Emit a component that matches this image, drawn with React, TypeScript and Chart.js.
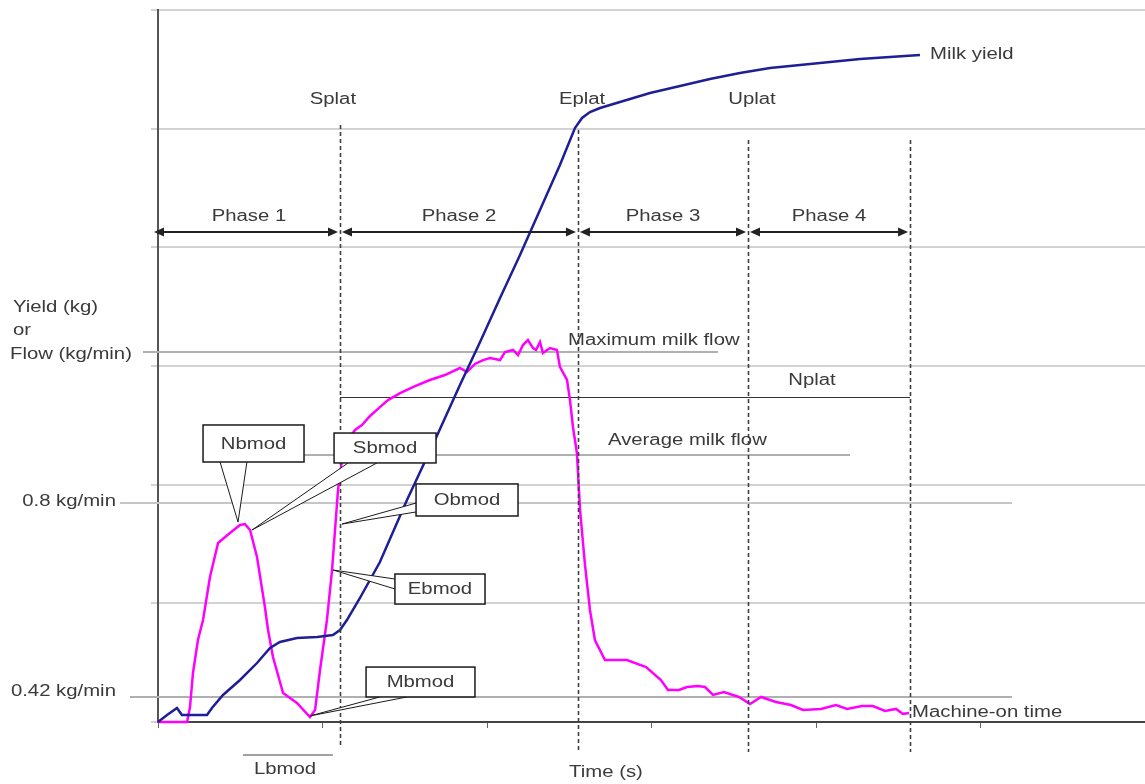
import { useEffect, useRef } from "react";
import { Chart, registerables } from "chart.js";

Chart.register(...registerables);

// ---- Data (time in s, yield in kg / flow in kg/min on a shared unit axis) ----
const yieldTime = [0, 5.5, 11.5, 14.5, 29.7, 32.7, 39.4, 49.7, 60, 67.9, 73.9, 84.2, 96.4, 106, 110.3, 114.5, 122.4, 134.5, 150.9, 167.9, 183, 195.2, 207.3, 219.4, 231.5, 243.6, 252.7, 257, 261.8, 267.9, 280, 298.2, 316.4, 334.5, 352.7, 370.9, 389.1, 407.3, 425.5, 443.6, 461.8];
const yieldValues = [0, 0.059, 0.118, 0.059, 0.059, 0.118, 0.228, 0.354, 0.497, 0.624, 0.674, 0.708, 0.716, 0.733, 0.775, 0.859, 1.045, 1.348, 1.871, 2.376, 2.84, 3.202, 3.573, 3.935, 4.314, 4.694, 5.005, 5.09, 5.14, 5.174, 5.225, 5.3, 5.359, 5.418, 5.469, 5.511, 5.536, 5.562, 5.587, 5.604, 5.621];

const flowTime = [0, 17.6, 19.4, 21.2, 24.2, 27.3, 31.5, 36.4, 43.6, 49.7, 52.7, 55.8, 60, 64.8, 66.7, 69.7, 75.8, 84.2, 92.1, 95.2, 98.2, 102.4, 105.5, 109.1, 111.5, 115.2, 119.4, 123.6, 128.5, 134.5, 139.4, 146.7, 155.8, 164.8, 173.9, 183, 187.3, 192.1, 197, 201.2, 207.3, 210.3, 215.2, 218.2, 221.2, 224.2, 227.3, 229.1, 231.5, 233.3, 237.6, 241.8, 243.6, 247.9, 249.7, 251.5, 253.9, 255.8, 258.8, 261.8, 264.8, 270.9, 284.2, 295.8, 304.8, 309.1, 315.8, 320.6, 327.3, 331.5, 336.4, 343, 352.1, 358.8, 365.5, 374.5, 383.6, 390.9, 401.8, 410.9, 417.6, 426.7, 433.3, 440.6, 447.3, 451.5, 455.2];
const flowValues = [0, 0, 0.126, 0.413, 0.691, 0.86, 1.222, 1.508, 1.593, 1.66, 1.668, 1.618, 1.39, 0.969, 0.775, 0.548, 0.244, 0.16, 0.042, 0.101, 0.438, 0.86, 1.281, 1.955, 2.208, 2.376, 2.461, 2.503, 2.579, 2.654, 2.713, 2.772, 2.831, 2.882, 2.924, 2.983, 2.949, 3.017, 3.05, 3.067, 3.05, 3.118, 3.135, 3.092, 3.177, 3.219, 3.151, 3.135, 3.202, 3.11, 3.151, 3.135, 2.992, 2.882, 2.713, 2.486, 2.267, 1.786, 1.323, 0.944, 0.691, 0.522, 0.522, 0.463, 0.354, 0.27, 0.27, 0.295, 0.303, 0.295, 0.228, 0.253, 0.211, 0.152, 0.211, 0.169, 0.143, 0.101, 0.11, 0.143, 0.11, 0.135, 0.135, 0.093, 0.11, 0.067, 0.076];

// ---- Annotation geometry (data units) ----
const markerTimes = [110.3, 254.5, 357.6, 455.8];
const markerTops = [5.031, 4.989, 4.904, 4.904];
const markerBottoms = [-0.194, -0.253, -0.253, -0.253];
const markerLabels = ["Splat", "Eplat", "Uplat"];
const markerLabelX = [106, 257, 360];
const markerLabelY = 5.241;

const phaseLabels = ["Phase 1", "Phase 2", "Phase 3", "Phase 4"];
const phaseBounds = [0, 110.3, 254.5, 357.6, 455.8];
const phaseArrowY = 4.129;
const phaseLabelY = 4.256;

const refLines = [
  { y: 3.118, x0: -9.1, x1: 339.4, color: "#b0b0b0", w: 2 },
  { y: 2.739, x0: 110.3, x1: 455.8, color: "#333333", w: 1 },
  { y: 2.25, x0: 87.9, x1: 419.4, color: "#b0b0b0", w: 2 },
  { y: 1.845, x0: -23, x1: 517.6, color: "#c6c6c6", w: 2 },
  { y: 0.211, x0: -17, x1: 517.6, color: "#b0b0b0", w: 2 },
];

const labels = [
  { s: "Milk yield", x: 467.9, y: 5.621, a: "left" },
  { s: "Maximum milk flow", x: 248.5, y: 3.211, a: "left" },
  { s: "Nplat", x: 396.4, y: 2.873, a: "center" },
  { s: "Average milk flow", x: 272.7, y: 2.368, a: "left" },
  { s: "Machine-on time", x: 457, y: 0.076, a: "left" },
  { s: "Yield (kg)", x: -87.9, y: 3.489, a: "left" },
  { s: "or", x: -87.9, y: 3.295, a: "left" },
  { s: "Flow (kg/min)", x: -89.7, y: 3.093, a: "left" },
  { s: "0.8 kg/min", x: -25.5, y: 1.854, a: "right" },
  { s: "0.42 kg/min", x: -25.5, y: 0.253, a: "right" },
  { s: "Lbmod", x: 77, y: -0.404, a: "center" },
  { s: "Time (s)", x: 271.5, y: -0.43, a: "center" },
];

const lbmodLine = { x0: 51.5, x1: 106, y: -0.278 };

const callouts = [
  { s: "Sbmod", box: [106.7, 168.5, 2.435, 2.183], base: [[115.2, 2.183], [132.7, 2.183]], tip: [57, 1.618] },
  { s: "Nbmod", box: [27.3, 88.5, 2.503, 2.191], base: [[37.6, 2.191], [53.9, 2.191]], tip: [48.5, 1.685] },
  { s: "Obmod", box: [156.4, 218.2, 2.006, 1.736], base: [[156.4, 1.845], [156.4, 1.77]], tip: [111.5, 1.668] },
  { s: "Ebmod", box: [143.6, 198.2, 1.247, 0.994], base: [[143.6, 1.205], [143.6, 1.121]], tip: [106.1, 1.281] },
  { s: "Mbmod", box: [126.1, 192.1, 0.463, 0.211], base: [[134.5, 0.211], [150.9, 0.211]], tip: [92.1, 0.051] },
];

const SX = 1.27;
const FONT = '16px "Liberation Sans", Arial, sans-serif';
const TEXT_COLOR = "#3a3a3a";

function drawText(ctx: CanvasRenderingContext2D, s: string, px: number, py: number, align: CanvasTextAlign) {
  ctx.save();
  ctx.translate(px, py);
  ctx.scale(SX, 1);
  ctx.font = FONT;
  ctx.fillStyle = TEXT_COLOR;
  ctx.textAlign = align;
  ctx.textBaseline = "middle";
  ctx.fillText(s, 0, 0);
  ctx.restore();
}

function arrowHead(ctx: CanvasRenderingContext2D, x: number, y: number, dir: number) {
  ctx.beginPath();
  ctx.moveTo(x, y);
  ctx.lineTo(x - dir * 10, y - 4.5);
  ctx.lineTo(x - dir * 10, y + 4.5);
  ctx.closePath();
  ctx.fill();
}

const annotPlugin = {
  id: "milkAnnot",
  beforeDatasetsDraw(chart: any) {
    const ctx: CanvasRenderingContext2D = chart.ctx;
    const xs = chart.scales.x;
    const ys = chart.scales.y;
    ctx.save();
    for (const l of refLines) {
      ctx.strokeStyle = l.color;
      ctx.lineWidth = l.w;
      ctx.beginPath();
      const py = Math.round(ys.getPixelForValue(l.y)) + (l.w === 1 ? 0.5 : 0);
      ctx.moveTo(xs.getPixelForValue(l.x0), py);
      ctx.lineTo(xs.getPixelForValue(l.x1), py);
      ctx.stroke();
    }
    // Lbmod bar
    ctx.strokeStyle = "#a0a0a0";
    ctx.lineWidth = 2;
    ctx.beginPath();
    ctx.moveTo(xs.getPixelForValue(lbmodLine.x0), ys.getPixelForValue(lbmodLine.y));
    ctx.lineTo(xs.getPixelForValue(lbmodLine.x1), ys.getPixelForValue(lbmodLine.y));
    ctx.stroke();
    ctx.restore();
  },
  afterDatasetsDraw(chart: any) {
    const ctx: CanvasRenderingContext2D = chart.ctx;
    const xs = chart.scales.x;
    const ys = chart.scales.y;
    const X = (v: number) => xs.getPixelForValue(v);
    const Y = (v: number) => ys.getPixelForValue(v);
    ctx.save();
    // dashed marker lines
    ctx.strokeStyle = "#404040";
    ctx.lineWidth = 1.6;
    ctx.setLineDash([4, 3]);
    markerTimes.forEach((t, i) => {
      const px = Math.round(X(t)) + 0.5;
      ctx.beginPath();
      ctx.moveTo(px, Y(markerTops[i]));
      ctx.lineTo(px, Y(markerBottoms[i]));
      ctx.stroke();
    });
    ctx.setLineDash([]);
    // phase arrows
    ctx.strokeStyle = "#222";
    ctx.fillStyle = "#222";
    ctx.lineWidth = 2;
    const ay = Y(phaseArrowY);
    for (let i = 0; i < phaseLabels.length; i++) {
      const x0 = X(phaseBounds[i]) + (i === 0 ? -4 : 2);
      const x1 = X(phaseBounds[i + 1]) - 2;
      ctx.beginPath();
      ctx.moveTo(x0 + 4, ay);
      ctx.lineTo(x1 - 4, ay);
      ctx.stroke();
      arrowHead(ctx, x0, ay, -1);
      arrowHead(ctx, x1, ay, 1);
      drawText(ctx, phaseLabels[i], (X(phaseBounds[i]) + X(phaseBounds[i + 1])) / 2, Y(phaseLabelY), "center");
    }
    markerLabels.forEach((s, i) => drawText(ctx, s, X(markerLabelX[i]), Y(markerLabelY), "center"));
    for (const l of labels) drawText(ctx, l.s, X(l.x), Y(l.y), l.a as CanvasTextAlign);
    // callouts
    for (const c of callouts) {
      ctx.beginPath();
      ctx.moveTo(X(c.base[0][0]), Y(c.base[0][1]));
      ctx.lineTo(X(c.tip[0]), Y(c.tip[1]));
      ctx.lineTo(X(c.base[1][0]), Y(c.base[1][1]));
      ctx.closePath();
      ctx.fillStyle = "#ffffff";
      ctx.fill();
      ctx.strokeStyle = "#1a1a1a";
      ctx.lineWidth = 1;
      ctx.beginPath();
      ctx.moveTo(X(c.base[0][0]), Y(c.base[0][1]));
      ctx.lineTo(X(c.tip[0]), Y(c.tip[1]));
      ctx.lineTo(X(c.base[1][0]), Y(c.base[1][1]));
      ctx.stroke();
      const bx0 = X(c.box[0]), bx1 = X(c.box[1]), by0 = Y(c.box[2]), by1 = Y(c.box[3]);
      ctx.fillStyle = "#ffffff";
      ctx.fillRect(bx0, by0, bx1 - bx0, by1 - by0);
      ctx.strokeStyle = "#1a1a1a";
      ctx.lineWidth = 1.5;
      ctx.strokeRect(bx0, by0, bx1 - bx0, by1 - by0);
      drawText(ctx, c.s, (bx0 + bx1) / 2, (by0 + by1) / 2 + 1, "center");
    }
    ctx.restore();
  },
};

export default function App() {
  const ref = useRef<HTMLCanvasElement | null>(null);
  useEffect(() => {
    if (!ref.current) return;
    const chart = new Chart(ref.current, {
      type: "line",
      data: {
        datasets: [
          {
            label: "Milk yield",
            data: yieldTime.map((t, i) => ({ x: t, y: yieldValues[i] })),
            borderColor: "#1e1e96",
            borderWidth: 2.5,
            pointRadius: 0,
            tension: 0,
            clip: false as any,
          },
          {
            label: "Milk flow",
            data: flowTime.map((t, i) => ({ x: t, y: flowValues[i] })),
            borderColor: "#ff00ff",
            borderWidth: 2.5,
            pointRadius: 0,
            tension: 0,
            clip: false as any,
          },
        ],
      },
      options: {
        responsive: false,
        animation: false,
        devicePixelRatio: 1,
        layout: { padding: { top: 10, left: 0, right: 0, bottom: 0 } },
        plugins: { legend: { display: false }, tooltip: { enabled: false } },
        scales: {
          x: {
            type: "linear",
            min: 0,
            max: 598.2,
            ticks: { display: false, stepSize: 100 },
            grid: { drawOnChartArea: false, drawTicks: true, tickLength: 6, color: "#666", lineWidth: 1 },
            border: { display: true, color: "#444", width: 2 },
            afterFit: (s: any) => { s.height = 62; },
          },
          y: {
            type: "linear",
            min: 0,
            max: 6,
            ticks: { display: false, stepSize: 1 },
            grid: { color: "#d2d2d2", lineWidth: 2, tickLength: 7, drawTicks: true },
            border: { display: true, color: "#555", width: 2 },
            afterFit: (s: any) => { s.width = 158; },
          },
        },
      },
      plugins: [annotPlugin],
    });
    return () => chart.destroy();
  }, []);
  return (
    <div style={{ position: "fixed", left: 0, top: 0, width: 1145, height: 784, background: "#fff" }}>
      <canvas ref={ref} width={1145} height={784} style={{ display: "block" }} />
    </div>
  );
}
